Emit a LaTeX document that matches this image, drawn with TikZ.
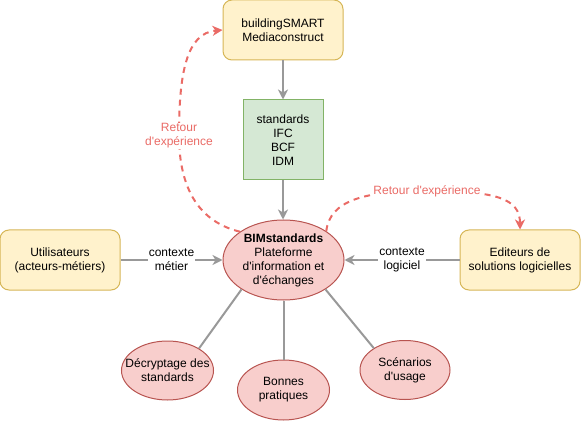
\documentclass[tikz,border=0pt]{standalone}
\usepackage{fontspec}
\setmainfont{Liberation Sans}
\usetikzlibrary{shapes.geometric,arrows.meta}
\definecolor{yfill}{HTML}{FFF2CC}
\definecolor{ystroke}{HTML}{D6B656}
\definecolor{gfill}{HTML}{D5E8D4}
\definecolor{gstroke}{HTML}{82B366}
\definecolor{rfill}{HTML}{F8CECC}
\definecolor{rstroke}{HTML}{B85450}
\definecolor{fbred}{HTML}{EA6B66}
\definecolor{edgegrey}{HTML}{999999}
\begin{document}
\begin{tikzpicture}[x=1pt,y=-1pt,
 txt/.style={font=\fontsize{12}{14}\selectfont, align=center, text=black, inner sep=0pt},
 ybox/.style={draw=ystroke, fill=yfill, rounded corners=9pt, minimum width=120pt, minimum height=60pt, inner sep=0pt, line width=1pt, font=\fontsize{12}{14}\selectfont, align=center},
 gbox/.style={draw=gstroke, fill=gfill, minimum width=80pt, minimum height=80pt, inner sep=0pt, line width=1pt, font=\fontsize{12}{14}\selectfont, align=center},
 rell/.style={ellipse, draw=rstroke, fill=rfill, inner sep=0pt, line width=1pt},
 flow/.style={draw=edgegrey, line width=2pt, -{Stealth[length=10pt,width=10pt,inset=3pt]}},
 link/.style={draw=edgegrey, line width=2pt},
 fback/.style={draw=fbred, line width=2pt, dash pattern=on 6pt off 5pt, -{Stealth[length=10pt,width=10pt,inset=3pt]}},
 elabel/.style={txt, fill=white, inner sep=1pt},
 flabel/.style={font=\fontsize{12}{14}\selectfont, text=fbred, fill=white, inner sep=1pt, align=center}
]
\useasboundingbox (0,0) rectangle (581,422);

% nodes
\node[ybox] (bs) at (283,30) {buildingSMART\\Mediaconstruct};
\node[gbox] (std) at (283,140) {standards\\IFC\\BCF\\IDM};
\node[ybox] (user) at (60,260) {Utilisateurs\\(acteurs-m\'etiers)};
\node[ybox] (edit) at (520,260) {Editeurs de\\solutions logicielles};

\node[rell, minimum width=121pt, minimum height=80pt] (main) at (283.5,260) {};
\node[txt] (maintxt) at (main) {\textbf{BIMstandards}\\Plateforme\\d\textquotesingle information et\\d\textquotesingle \'echanges};

\node[rell, minimum width=92pt, minimum height=59pt] (dec) at (167.5,370.5) {};
\node[txt] (dectxt) at (dec) {D\'ecryptage des\\standards};
\node[rell, minimum width=92pt, minimum height=60pt] (bon) at (283.5,390) {};
\node[txt] (bontxt) at (bon) {Bonnes\\pratiques};
\node[rell, minimum width=90pt, minimum height=59pt] (scen) at (405,370) {};
\node[txt] (scentxt) at (scen) {Sc\'enarios\\d\textquotesingle usage};

% connectors
\draw[flow] (bs.south) -- (std.north);
\draw[flow] (std.south) -- (main.north -| std.south);
\draw[flow] (user.east) -- node[elabel] (lab1) {contexte\\m\'etier} (main.west);
\draw[flow] (edit.west) -- node[elabel] (lab2) {contexte\\logiciel} (main.east);

\draw[link] (main.215) -- (dec.35);
\draw[link] (main.south) -- (bon.north);
\draw[link] (main.325) -- (scen.145);

% feedback curves
\draw[fback] (main.147) .. controls (200,222) and (179,190) .. (179,135)
  .. controls (179,75) and (186,33) .. (bs.west);
\node[flabel] (fb1) at (179,136) {Retour\\d\textquotesingle exp\'erience};

\draw[fback] (main.34) .. controls (330,200) and (365,191) .. (427,191)
  .. controls (495,191) and (520,198) .. (edit.north);
\node[flabel] (fb2) at (427,191) {Retour d\textquotesingle exp\'erience};
\end{tikzpicture}
\end{document}
